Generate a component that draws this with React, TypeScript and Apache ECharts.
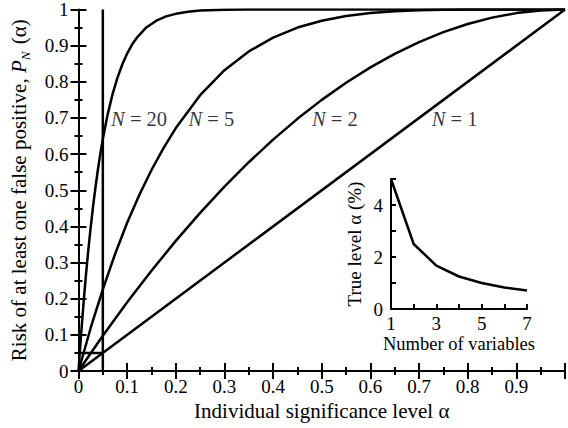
import React, { useEffect, useRef } from "react";
import * as echarts from "echarts";

// Risk curves P_N(alpha)
const curveN1: number[][] = [[0, 0], [1, 1]];
const curveN2: number[][] = [
  [0, 0], [0.05, 0.0975], [0.1, 0.19], [0.15, 0.2775], [0.2, 0.36], [0.25, 0.4375],
  [0.3, 0.51], [0.35, 0.5775], [0.4, 0.64], [0.45, 0.6975], [0.5, 0.75], [0.55, 0.7975],
  [0.6, 0.84], [0.65, 0.8775], [0.7, 0.91], [0.75, 0.9375], [0.8, 0.96], [0.85, 0.9775],
  [0.9, 0.99], [0.95, 0.9975], [1, 1],
];
const curveN5: number[][] = [
  [0, 0], [0.025, 0.119], [0.05, 0.226], [0.075, 0.323], [0.1, 0.41], [0.125, 0.487],
  [0.15, 0.556], [0.175, 0.617], [0.2, 0.672], [0.25, 0.763], [0.3, 0.832], [0.35, 0.884],
  [0.4, 0.922], [0.45, 0.95], [0.5, 0.969], [0.55, 0.982], [0.6, 0.99], [0.65, 0.995],
  [0.7, 0.998], [0.75, 0.999], [0.8, 1], [1, 1],
];
const curveN20: number[][] = [
  [0, 0], [0.005, 0.095], [0.01, 0.182], [0.015, 0.261], [0.02, 0.332], [0.025, 0.397],
  [0.03, 0.456], [0.035, 0.509], [0.04, 0.558], [0.045, 0.602], [0.05, 0.642],
  [0.06, 0.71], [0.07, 0.766], [0.08, 0.811], [0.09, 0.848], [0.1, 0.878], [0.11, 0.903],
  [0.12, 0.922], [0.14, 0.951], [0.16, 0.969], [0.18, 0.981], [0.2, 0.988], [0.225, 0.994],
  [0.25, 0.997], [0.3, 0.999], [0.35, 1], [1, 1],
];
const alphaLine: number[][] = [[0.05, 0], [0.05, 1]];
const levelLine: number[][] = [[0, 0.05], [0.05, 0.05]];
// Curve labels: [alpha, P, N]
const curveLabels: (number | string)[][] = [
  [0.067, 0.697, "20"],
  [0.226, 0.697, "5"],
  [0.48, 0.697, "2"],
  [0.726, 0.697, "1"],
];
// Inset: true level (%) vs number of variables
const insetVariables: number[] = [1, 2, 3, 4, 5, 6, 7];
const insetTrueLevel: number[] = [5, 2.5, 1.67, 1.25, 1.0, 0.83, 0.71];

const FONT = "'Liberation Serif', 'Times New Roman', serif";
const BLACK = "#000";

export default function App() {
  const ref = useRef<HTMLDivElement>(null);
  useEffect(() => {
    document.body.style.margin = "0";
    if (!ref.current) return;
    const chart = echarts.init(ref.current, undefined, { renderer: "svg" });
    const lineStyle = { color: BLACK, width: 2 };
    const curve = (data: number[][]) => ({
      type: "line",
      xAxisIndex: 0,
      yAxisIndex: 0,
      data,
      symbol: "none",
      smooth: false,
      lineStyle: { color: BLACK, width: 2.5 },
      silent: true,
      z: 3,
    });
    chart.setOption({
      animation: false,
      backgroundColor: "#fff",
      textStyle: { fontFamily: FONT, color: BLACK },
      grid: [
        { left: 74, right: 2, top: 8, bottom: 57 },
        { left: 391, right: 41, top: 179, bottom: 119 },
      ],
      xAxis: [
        {
          type: "value", gridIndex: 0, position: "bottom", min: 0, max: 1, interval: 0.1,
          axisLine: { show: true, lineStyle },
          axisTick: { show: true, inside: true, length: 8, lineStyle },
          minorTick: { show: true, splitNumber: 2, length: 4, lineStyle },
          splitLine: { show: false },
          axisLabel: {
            fontFamily: FONT, fontSize: 19, color: BLACK, margin: 6,
            formatter: (v: number) => (v >= 1 ? "" : v === 0 ? "0" : v.toFixed(1)),
          },
          name: "Individual significance level α",
          nameLocation: "middle", nameGap: 29,
          nameTextStyle: { fontFamily: FONT, fontSize: 21, color: BLACK },
        },
        {
          type: "value", gridIndex: 0, position: "top", min: 0, max: 1, interval: 0.1,
          axisLine: { show: true, lineStyle },
          axisTick: { show: true, inside: true, length: 8, lineStyle },
          minorTick: { show: true, splitNumber: 2, length: 4, lineStyle },
          splitLine: { show: false },
          axisLabel: { show: false },
        },
        {
          type: "value", gridIndex: 1, min: 1, max: 7, interval: 1,
          axisLine: { show: true, lineStyle },
          axisTick: { show: true, inside: true, length: 5, lineStyle },
          splitLine: { show: false },
          axisLabel: {
            fontFamily: FONT, fontSize: 19, color: BLACK, margin: 5,
            formatter: (v: number) => (Math.round(v) % 2 === 1 ? String(Math.round(v)) : ""),
          },
          name: "Number of variables",
          nameLocation: "middle", nameGap: 25,
          nameTextStyle: { fontFamily: FONT, fontSize: 18.5, color: BLACK },
        },
      ],
      yAxis: [
        {
          type: "value", gridIndex: 0, position: "left", min: 0, max: 1, interval: 0.1,
          axisLine: { show: true, lineStyle },
          axisTick: { show: true, inside: true, length: 8, lineStyle },
          minorTick: { show: true, splitNumber: 2, length: 4, lineStyle },
          splitLine: { show: false },
          axisLabel: { fontFamily: FONT, fontSize: 19, color: BLACK, margin: 10 },
          name: "{a|Risk of at least one false positive, }{i|P}{s|N}{a| (α)}",
          nameLocation: "middle", nameGap: 47,
          nameTextStyle: {
            fontFamily: FONT, fontSize: 21, color: BLACK,
            rich: {
              a: { fontFamily: FONT, fontSize: 21, color: BLACK, lineHeight: 26 },
              i: { fontFamily: FONT, fontSize: 21, color: BLACK, fontStyle: "italic", lineHeight: 26 },
              s: { fontFamily: FONT, fontSize: 13, color: BLACK, fontStyle: "italic", verticalAlign: "bottom", lineHeight: 26, padding: [0, 2, 0, 0] },
            },
          },
        },
        {
          type: "value", gridIndex: 0, position: "right", min: 0, max: 1, interval: 0.1,
          axisLine: { show: false },
          axisTick: { show: true, inside: true, length: 8, lineStyle },
          minorTick: { show: true, splitNumber: 2, length: 4, lineStyle },
          splitLine: { show: false },
          axisLabel: { show: false },
        },
        {
          type: "value", gridIndex: 1, min: 0, max: 5, interval: 1,
          axisLine: { show: true, lineStyle },
          axisTick: { show: true, inside: true, length: 5, lineStyle },
          splitLine: { show: false },
          axisLabel: {
            fontFamily: FONT, fontSize: 19, color: BLACK, margin: 8,
            formatter: (v: number) => (Math.round(v) % 2 === 0 ? String(Math.round(v)) : ""),
          },
          name: "True level α (%)",
          nameLocation: "middle", nameGap: 27,
          nameTextStyle: { fontFamily: FONT, fontSize: 19, color: BLACK },
        },
      ],
      series: [
        curve(curveN1),
        curve(curveN2),
        curve(curveN5),
        curve(curveN20),
        {
          type: "line", xAxisIndex: 0, yAxisIndex: 0, data: alphaLine, symbol: "none",
          lineStyle: { color: BLACK, width: 2.5 }, silent: true, z: 3,
        },
        {
          type: "line", xAxisIndex: 0, yAxisIndex: 0, data: levelLine, symbol: "none",
          lineStyle: { color: BLACK, width: 2.5 }, silent: true, z: 3,
        },
        {
          type: "scatter", xAxisIndex: 0, yAxisIndex: 0, symbolSize: 0, silent: true, z: 4,
          data: curveLabels,
          label: {
            show: true, position: "right", distance: 0,
            formatter: (p: any) => `{i|N}{a| = ${p.data[2]}}`,
            rich: {
              i: { fontFamily: FONT, fontSize: 20.5, color: BLACK, fontStyle: "italic" },
              a: { fontFamily: FONT, fontSize: 20.5, color: BLACK },
            },
          },
        },
        {
          type: "line", xAxisIndex: 2, yAxisIndex: 2, symbol: "none", silent: true,
          data: insetVariables.map((n, i) => [n, insetTrueLevel[i]]),
          lineStyle: { color: BLACK, width: 2.5 },
        },
      ],
    });
    return () => chart.dispose();
  }, []);
  return <div ref={ref} style={{ width: 568, height: 428 }} />;
}
